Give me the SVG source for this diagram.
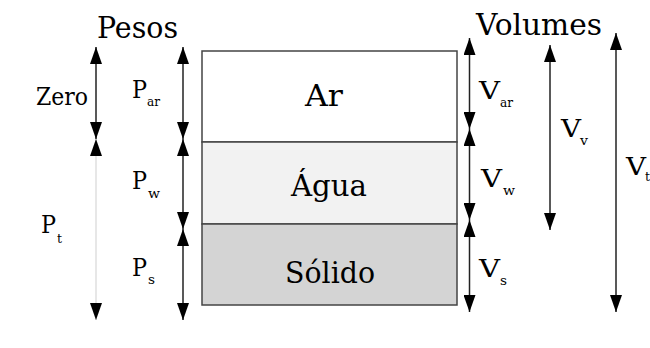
<svg xmlns="http://www.w3.org/2000/svg" width="650" height="348" viewBox="0 0 650 348">
<defs>
<marker id="ah" viewBox="0 0 17 12" refX="17" refY="6" markerWidth="17" markerHeight="12" markerUnits="userSpaceOnUse" orient="auto-start-reverse">
<path d="M0,0 L17,6 L0,12 z" fill="#000"/>
</marker>
<style>
text{font-family:'DejaVu Serif',serif;fill:#000}
.big{font-size:29px}
.lbl{font-size:30px}
.sym{font-size:25px}
.sub{font-size:13px}
.dim{stroke:#222;stroke-width:1.5;fill:none;marker-start:url(#ah);marker-end:url(#ah)}
.cell{stroke:#444;stroke-width:1.5}
</style>
</defs>
<rect width="650" height="348" fill="#fff"/>
<text class="big" x="97" y="38" textLength="81" lengthAdjust="spacingAndGlyphs">Pesos</text>
<text class="big" x="476" y="35" textLength="126" lengthAdjust="spacingAndGlyphs">Volumes</text>
<g id="ar">
<rect class="cell" x="202" y="51" width="255" height="91" fill="#fff"/>
<text class="lbl" x="305" y="106" textLength="38" lengthAdjust="spacingAndGlyphs">Ar</text>
</g>
<g id="agua">
<rect class="cell" x="202" y="142" width="255" height="82" fill="#f2f2f2"/>
<text class="lbl" x="291" y="196" textLength="76" lengthAdjust="spacingAndGlyphs">Água</text>
</g>
<g id="solido">
<rect class="cell" x="202" y="224" width="255" height="81" fill="#d4d4d4"/>
<text class="lbl" x="285" y="283" textLength="90" lengthAdjust="spacingAndGlyphs">Sólido</text>
</g>
<g id="connectors">
<line class="dim" x1="96" y1="47" x2="96" y2="139"/>
<line class="dim" x1="96" y1="139" x2="96" y2="320" style="stroke:#cfcfcf;stroke-width:1"/>
<line class="dim" x1="183" y1="47" x2="183" y2="139"/>
<line class="dim" x1="183" y1="139" x2="183" y2="229"/>
<line class="dim" x1="183" y1="229" x2="183" y2="320"/>
<line class="dim" x1="469.5" y1="38" x2="469.5" y2="129"/>
<line class="dim" x1="469.5" y1="129" x2="469.5" y2="220"/>
<line class="dim" x1="469.5" y1="220" x2="469.5" y2="312"/>
<line class="dim" x1="550" y1="45" x2="550" y2="230"/>
<line class="dim" x1="616" y1="33" x2="616" y2="312"/>
</g>
<g id="labels">
<text class="sym" x="36" y="105" textLength="52" lengthAdjust="spacingAndGlyphs">Zero</text>
<text class="sym" x="132" y="98" textLength="15" lengthAdjust="spacingAndGlyphs">P</text>
<text class="sub" x="147" y="106" textLength="13" lengthAdjust="spacingAndGlyphs">ar</text>
<text class="sym" x="132" y="189" textLength="15" lengthAdjust="spacingAndGlyphs">P</text>
<text class="sub" x="148" y="198" textLength="12" lengthAdjust="spacingAndGlyphs">w</text>
<text class="sym" x="132" y="276" textLength="15" lengthAdjust="spacingAndGlyphs">P</text>
<text class="sub" x="148" y="284" textLength="7" lengthAdjust="spacingAndGlyphs">s</text>
<text class="sym" x="41" y="233" textLength="15" lengthAdjust="spacingAndGlyphs">P</text>
<text class="sub" x="57" y="243" textLength="5" lengthAdjust="spacingAndGlyphs">t</text>
<text class="sym" x="479" y="99" textLength="21" lengthAdjust="spacingAndGlyphs">V</text>
<text class="sub" x="500" y="107" textLength="13" lengthAdjust="spacingAndGlyphs">ar</text>
<text class="sym" x="481" y="187" textLength="21" lengthAdjust="spacingAndGlyphs">V</text>
<text class="sub" x="503" y="195" textLength="12" lengthAdjust="spacingAndGlyphs">w</text>
<text class="sym" x="479" y="277" textLength="21" lengthAdjust="spacingAndGlyphs">V</text>
<text class="sub" x="500" y="285" textLength="7" lengthAdjust="spacingAndGlyphs">s</text>
<text class="sym" x="561" y="137" textLength="20" lengthAdjust="spacingAndGlyphs">V</text>
<text class="sub" x="580" y="145" textLength="8" lengthAdjust="spacingAndGlyphs">v</text>
<text class="sym" x="626" y="175" textLength="20" lengthAdjust="spacingAndGlyphs">V</text>
<text class="sub" x="645" y="181" textLength="5" lengthAdjust="spacingAndGlyphs">t</text>
</g>
</svg>
